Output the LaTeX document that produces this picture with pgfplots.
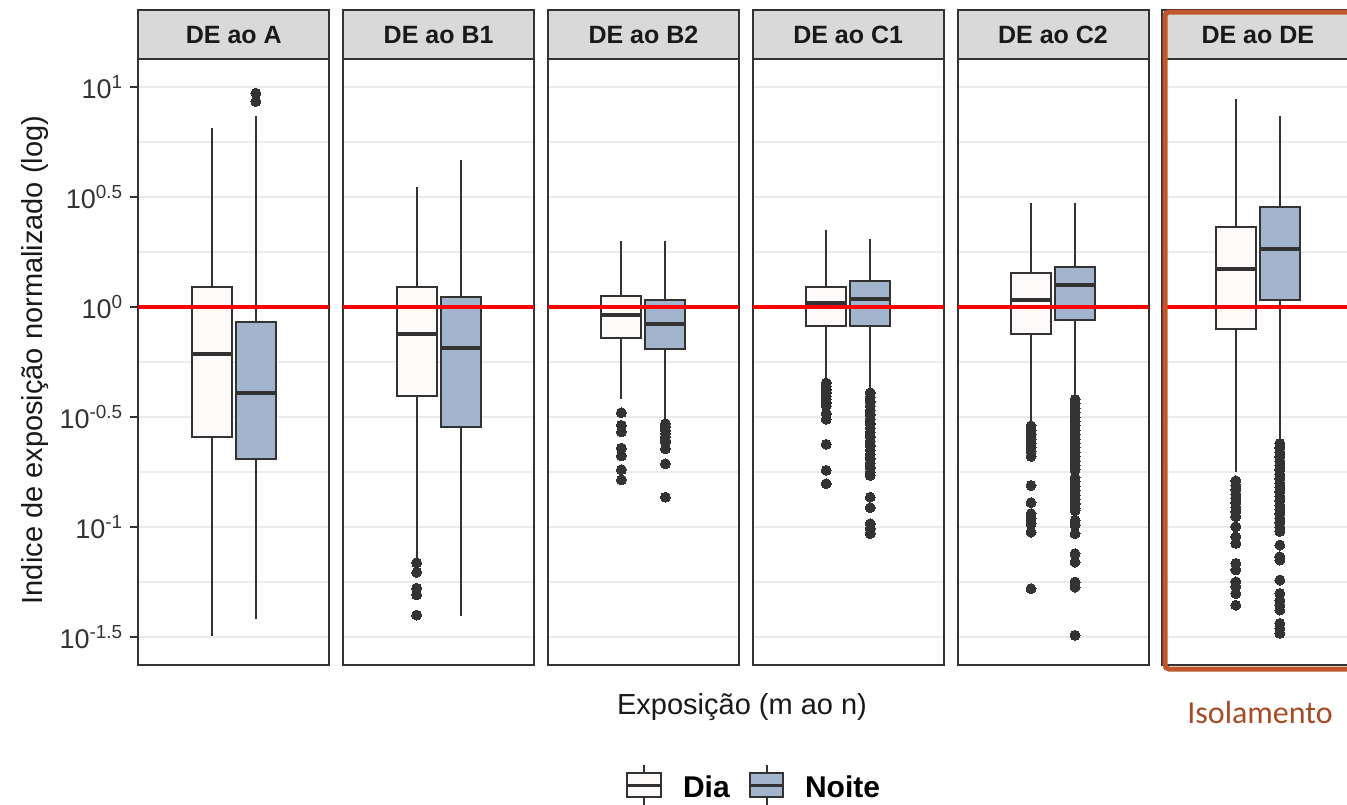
\documentclass[border=0pt]{standalone}
\usepackage{pgfplots}
\pgfplotsset{compat=1.18}
\usepgfplotslibrary{statistics}
\usepackage{fontspec}
\setmainfont{Liberation Sans}
\newfontfamily\calibri{Carlito}
\definecolor{snowc}{HTML}{FFFAFA}
\definecolor{steel}{HTML}{A2B5CD}
\definecolor{c333}{HTML}{333333}
\definecolor{gridc}{HTML}{EBEBEB}
\definecolor{stripc}{HTML}{D9D9D9}
\definecolor{isoframe}{HTML}{C0582C}
\definecolor{isotext}{HTML}{A94A27}
\definecolor{ticktext}{HTML}{333333}
\pgfplotsset{
  panel/.style={scale only axis, width=95.5pt, height=303pt, anchor=north west,
    xmin=-0.67, xmax=3.67, ymin=-1.627, ymax=1.127,
    xtick=\empty, ytick={-1.5,-1,-0.5,0,0.5,1},
    minor ytick={-1.25,-0.75,-0.25,0.25,0.75},
    ymajorgrids, yminorgrids,
    major grid style={draw=gridc, line width=1pt},
    minor grid style={draw=gridc, line width=0.7pt},
    axis line style={draw=c333, line width=1pt},
    major tick length=0pt, minor tick length=0pt,
    yticklabels={},
    boxplot/draw direction=y,
    boxplot/whisker extend=0,
    boxplot/box extend=0.91,
    boxplot/every median/.style={line width=2pt},
  },
  dia/.style={draw=c333, fill=snowc, line width=1pt, mark=*, mark size=2.5pt,
    mark options={draw=c333, fill=c333, line width=0pt}},
  noite/.style={draw=c333, fill=steel, line width=1pt, mark=*, mark size=2.5pt,
    mark options={draw=c333, fill=c333, line width=0pt}},
  refl/.style={draw=red, line width=1.7pt},
}
\begin{document}
\begin{tikzpicture}
\useasboundingbox (0,0) rectangle (673.5pt,-402pt);
\clip (0,0) rectangle (673.5pt,-402pt);

% Panel 1: DE ao A
\begin{axis}[panel, at={(69.15pt,-29.5pt)},
  ytick pos=left, tick align=outside, major tick length=4pt,
  ytick style={draw=c333, line width=1pt},
  yticklabels={10\textsuperscript{-1.5},10\textsuperscript{-1},10\textsuperscript{-0.5},10\textsuperscript{0},10\textsuperscript{0.5},10\textsuperscript{1}},
  yticklabel style={font=\fontsize{13.5}{16}\selectfont, text=ticktext}]
\addplot[dia, boxplot prepared={draw position=1, lower whisker=-1.497, lower quartile=-0.590, median=-0.213, upper quartile=0.093, upper whisker=0.815}] coordinates {};
\addplot[noite, boxplot prepared={draw position=2, lower whisker=-1.419, lower quartile=-0.689, median=-0.389, upper quartile=-0.066, upper whisker=0.869}] table[row sep=\\, y index=0] {v\\ 0.934\\ 0.972\\};
\addplot[refl] coordinates {(-0.67,0) (3.67,0)};
\end{axis}

% Panel 2: DE ao B1
\begin{axis}[panel, at={(171.55pt,-29.5pt)}]
\addplot[dia, boxplot prepared={draw position=1, lower whisker=-1.14, lower quartile=-0.403, median=-0.124, upper quartile=0.092, upper whisker=0.545}] table[row sep=\\, y index=0] {v\\ -1.163\\ -1.206\\ -1.278\\ -1.308\\ -1.400\\};
\addplot[noite, boxplot prepared={draw position=2, lower whisker=-1.405, lower quartile=-0.546, median=-0.186, upper quartile=0.046, upper whisker=0.667}] coordinates {};
\addplot[refl] coordinates {(-0.67,0) (3.67,0)};
\end{axis}

% Panel 3: DE ao B2
\begin{axis}[panel, at={(273.95pt,-29.5pt)}]
\addplot[dia, boxplot prepared={draw position=1, lower whisker=-0.417, lower quartile=-0.139, median=-0.035, upper quartile=0.048, upper whisker=0.30}] table[row sep=\\, y index=0] {v\\ -0.480\\ -0.538\\ -0.568\\ -0.641\\ -0.676\\ -0.739\\ -0.785\\};
\addplot[noite, boxplot prepared={draw position=2, lower whisker=-0.515, lower quartile=-0.191, median=-0.079, upper quartile=0.030, upper whisker=0.30}] table[row sep=\\, y index=0] {v\\ -0.53\\ -0.545\\ -0.56\\ -0.575\\ -0.59\\ -0.605\\ -0.614\\ -0.644\\ -0.712\\ -0.864\\};
\addplot[refl] coordinates {(-0.67,0) (3.67,0)};
\end{axis}

% Panel 4: DE ao C1
\begin{axis}[panel, at={(376.35pt,-29.5pt)}]
\addplot[dia, boxplot prepared={draw position=1, lower whisker=-0.33, lower quartile=-0.086, median=0.020, upper quartile=0.091, upper whisker=0.352}] table[row sep=\\, y index=0] {v\\ -0.345\\ -0.36\\ -0.375\\ -0.39\\ -0.405\\ -0.42\\ -0.435\\ -0.45\\ -0.485\\ -0.51\\ -0.624\\ -0.742\\ -0.803\\};
\addplot[noite, boxplot prepared={draw position=2, lower whisker=-0.38, lower quartile=-0.086, median=0.036, upper quartile=0.12, upper whisker=0.308}] table[row sep=\\, y index=0] {v\\ -0.39\\ -0.41\\ -0.43\\ -0.45\\ -0.47\\ -0.49\\ -0.51\\ -0.53\\ -0.55\\ -0.57\\ -0.59\\ -0.61\\ -0.63\\ -0.65\\ -0.67\\ -0.69\\ -0.71\\ -0.73\\ -0.75\\ -0.765\\ -0.864\\ -0.912\\ -0.985\\ -1.008\\ -1.03\\};
\addplot[refl] coordinates {(-0.67,0) (3.67,0)};
\end{axis}

% Panel 5: DE ao C2
\begin{axis}[panel, at={(478.75pt,-29.5pt)}]
\addplot[dia, boxplot prepared={draw position=1, lower whisker=-0.523, lower quartile=-0.121, median=0.030, upper quartile=0.156, upper whisker=0.474}] table[row sep=\\, y index=0] {v\\ -0.54\\ -0.56\\ -0.58\\ -0.60\\ -0.62\\ -0.64\\ -0.655\\ -0.679\\ -0.811\\ -0.889\\ -0.939\\ -0.962\\ -0.985\\ -1.023\\ -1.28\\};
\addplot[noite, boxplot prepared={draw position=2, lower whisker=-0.409, lower quartile=-0.058, median=0.098, upper quartile=0.182, upper whisker=0.474}] table[row sep=\\, y index=0] {v\\ -0.42\\ -0.44\\ -0.46\\ -0.48\\ -0.50\\ -0.52\\ -0.54\\ -0.56\\ -0.58\\ -0.60\\ -0.62\\ -0.64\\ -0.66\\ -0.68\\ -0.70\\ -0.72\\ -0.74\\ -0.775\\ -0.795\\ -0.815\\ -0.835\\ -0.855\\ -0.875\\ -0.895\\ -0.915\\ -0.925\\ -0.970\\ -0.992\\ -1.03\\ -1.121\\ -1.159\\ -1.25\\ -1.273\\ -1.492\\};
\addplot[refl] coordinates {(-0.67,0) (3.67,0)};
\end{axis}

% Panel 6: DE ao DE
\begin{axis}[panel, at={(581.15pt,-29.5pt)}]
\addplot[dia, boxplot prepared={draw position=1, lower whisker=-0.749, lower quartile=-0.101, median=0.171, upper quartile=0.362, upper whisker=0.947}] table[row sep=\\, y index=0] {v\\ -0.79\\ -0.81\\ -0.83\\ -0.85\\ -0.87\\ -0.89\\ -0.91\\ -0.93\\ -0.953\\ -0.999\\ -1.044\\ -1.074\\ -1.165\\ -1.195\\ -1.249\\ -1.271\\ -1.302\\ -1.355\\};
\addplot[noite, boxplot prepared={draw position=2, lower whisker=-0.605, lower quartile=0.034, median=0.262, upper quartile=0.456, upper whisker=0.868}] table[row sep=\\, y index=0] {v\\ -0.62\\ -0.64\\ -0.66\\ -0.68\\ -0.70\\ -0.72\\ -0.74\\ -0.76\\ -0.78\\ -0.80\\ -0.82\\ -0.84\\ -0.86\\ -0.88\\ -0.90\\ -0.92\\ -0.94\\ -0.96\\ -0.98\\ -1.00\\ -1.02\\ -1.082\\ -1.135\\ -1.15\\ -1.241\\ -1.302\\ -1.332\\ -1.355\\ -1.377\\ -1.438\\ -1.461\\ -1.483\\};
\addplot[refl] coordinates {(-0.67,0) (3.67,0)};
\end{axis}

\begin{scope}[x=0.5pt, y=-0.5pt]
  % strips
  \foreach \L/\T in {138.3/DE ao A, 343.1/DE ao B1, 547.9/DE ao B2, 752.7/DE ao C1, 957.5/DE ao C2, 1162.3/DE ao DE} {
    \draw[fill=stripc, draw=c333, line width=1pt] (\L,9.5) rectangle (\L+191,59);
    \node[font=\bfseries\fontsize{12.5}{15}\selectfont, text=black!90] at (\L+95.5,35) {\T};
  }
  % axis titles
  \node[rotate=90, font=\fontsize{14.5}{17}\selectfont, text=black!90] at (35,360) {Indice de exposição normalizado (log)};
  \node[font=\fontsize{14.5}{17}\selectfont, text=black!90] at (742,707) {Exposição (m ao n)};
  % Isolamento frame
  \draw[isoframe, line width=2.5pt, rounded corners=2pt] (1165,12) rectangle (1370,669);
  \node[font=\calibri\fontsize{16}{19}\selectfont, text=isotext] at (1260,712) {Isolamento};
  % legend
  \draw[c333, line width=1pt] (644,765) -- (644,773);
  \draw[c333, line width=1pt] (644,797) -- (644,812);
  \draw[c333, fill=snowc, line width=1pt] (627,773) rectangle (661,797);
  \draw[c333, line width=1.5pt] (627,785) -- (661,785);
  \node[anchor=west, font=\bfseries\fontsize{15}{18}\selectfont] at (676,787) {Dia};
  \draw[c333, line width=1pt] (766.5,765) -- (766.5,773);
  \draw[c333, line width=1pt] (766.5,797) -- (766.5,812);
  \draw[c333, fill=steel, line width=1pt] (750,773) rectangle (783,797);
  \draw[c333, line width=1.5pt] (750,785) -- (783,785);
  \node[anchor=west, font=\bfseries\fontsize{15}{18}\selectfont] at (798,787) {Noite};
\end{scope}
\end{tikzpicture}
\end{document}
